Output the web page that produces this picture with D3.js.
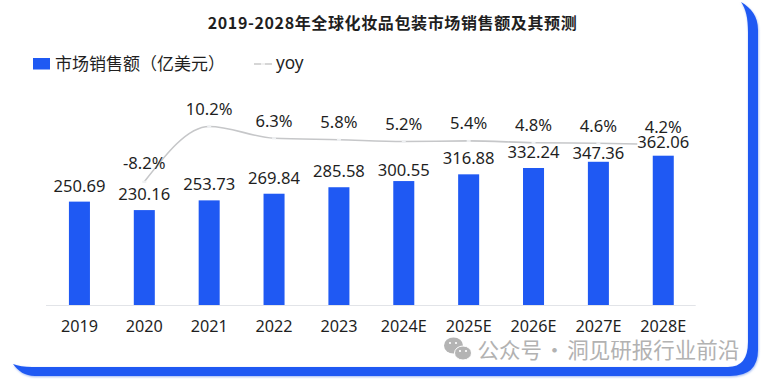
<!DOCTYPE html>
<html><head><meta charset="utf-8">
<script src="https://cdn.jsdelivr.net/npm/d3@7/dist/d3.min.js"></script>
<style>
html,body{margin:0;padding:0;background:#fff}
svg{display:block}
text{font-family:"Noto Sans","Noto Sans CJK SC",sans-serif;fill:#1f1f1f}
</style></head><body>
<svg id="c" width="765" height="381"></svg>
<script>
const categories=["2019","2020","2021","2022","2023","2024E","2025E","2026E","2027E","2028E"];
const marketSales=[250.69,230.16,253.73,269.84,285.58,300.55,316.88,332.24,347.36,362.06];
const yoyValues=[null,-8.2,10.2,6.3,5.8,5.2,5.4,4.8,4.6,4.2];
const yoyLabels=["","-8.2%","10.2%","6.3%","5.8%","5.2%","5.4%","4.8%","4.6%","4.2%"];
const titleText="2019-2028年全球化妆品包装市场销售额及其预测";
const barLegend="市场销售额（亿美元）";
const lineLegend="yoy";
const watermark="公众号 · 洞见研报行业前沿";

const BLUE="#1f59f3";
const svg=d3.select("#c");
const baseY=305;
const x=d3.scaleBand().domain(categories).range([47,695.7]).paddingInner(0.676).paddingOuter(0.338);
const yBar=d3.scaleLinear().domain([0,362.06]).range([baseY,155.7]);
const yLine=d3.scaleLinear().domain([4.2,10.2]).range([144.5,126.5]);
const cx=c=>x(c)+x.bandwidth()/2;
// hand placed label gaps of the original, in px above each bar
const valueGap=[10,10,10,10,10,5.3,10,10,2.7,7.4];

// decorative frame
const defs=svg.append("defs");
const f=defs.append("filter").attr("id","sh").attr("x","-5%").attr("y","-5%").attr("width","110%").attr("height","110%");
f.append("feGaussianBlur").attr("stdDeviation",1.2);
const framePath="M741,2 C751,8 758,16 758,30 L758,350 Q758,376 730,376 L35,376 C25,376 18,371 13,364 C18,366 24,367 32,367 L728,367 Q748,367 748,342 L748,32 C748,18 746,9 741,2 Z";
svg.append("path").attr("d",framePath).attr("fill","#9db6f2").attr("filter","url(#sh)").attr("transform","translate(0.5,1)");
svg.append("path").attr("d",framePath).attr("fill",BLUE);

// title
svg.append("text").attr("x",392.5).attr("y",29).attr("text-anchor","middle")
  .attr("font-size",16).attr("font-weight",700).attr("letter-spacing",0.62)
  .style("font-family",'"Noto Sans CJK SC","Noto Sans",sans-serif').text(titleText);

// legend
svg.append("rect").attr("x",33).attr("y",58).attr("width",17).attr("height",11.5).attr("fill",BLUE);
svg.append("text").attr("x",55).attr("y",70).attr("font-size",17)
  .style("font-family",'"Noto Sans CJK SC",sans-serif').text(barLegend);
svg.append("line").attr("x1",254).attr("x2",272).attr("y1",64).attr("y2",64)
  .attr("stroke","#c9c9c9").attr("stroke-width",1.5);
svg.append("rect").attr("x",261).attr("y",63).attr("width",4).attr("height",2).attr("fill","#f2f2f2");
svg.append("text").attr("x",276).attr("y",69).attr("font-size",17.2).text(lineLegend);

// axis
const axis=d3.axisBottom(x).tickSize(0).tickPadding(0);
const ax=svg.append("g").attr("transform",`translate(0,${baseY})`).call(axis);
ax.select(".domain").attr("stroke","#e2e4e8").attr("stroke-width",1).attr("d","M46,0.5H695.7");
ax.selectAll("text").attr("y",27).attr("dy",0).attr("font-size",16.2);

// bars
svg.append("g").selectAll("rect").data(marketSales).join("rect")
  .attr("x",(d,i)=>x(categories[i])).attr("width",x.bandwidth())
  .attr("y",d=>yBar(d)).attr("height",d=>baseY-yBar(d)).attr("fill",BLUE);

// yoy line
const pts=yoyValues.map((v,i)=>({v,c:categories[i],l:yoyLabels[i]})).filter(d=>d.v!==null);
const line=d3.line().x(d=>cx(d.c)).y(d=>yLine(d.v)).curve(d3.curveMonotoneX);
svg.append("path").attr("d",line(pts)).attr("fill","none").attr("stroke","#c6c7c9").attr("stroke-width",1.6);
svg.append("g").selectAll("rect").data(pts).join("rect")
  .attr("x",d=>cx(d.c)-2).attr("y",d=>yLine(d.v)-1).attr("width",4).attr("height",2.2).attr("fill","#eef0f2");

svg.append("g").selectAll("text").data(pts).join("text")
  .attr("x",d=>cx(d.c)).attr("y",d=>yLine(d.v)-(d.v<0?12.5:11.5)).attr("text-anchor","middle")
  .attr("font-size",16.6).text(d=>d.l);

// value labels with white backing
const vg=svg.append("g").selectAll("g").data(marketSales).join("g");
const vt=vg.append("text").attr("x",(d,i)=>cx(categories[i])).attr("y",(d,i)=>yBar(d)-valueGap[i])
  .attr("text-anchor","middle").attr("font-size",16.6).text(d=>d.toFixed(2));
vt.each(function(){
  const b=this.getBBox();
  d3.select(this.parentNode).insert("rect","text").attr("x",b.x).attr("y",b.y+5).attr("width",b.width).attr("height",b.height-8).attr("fill","#fff");
});

// watermark
const wm=svg.append("g");
const GREY="#b4b4b4";
wm.append("ellipse").attr("cx",453.5).attr("cy",345.5).attr("rx",9.5).attr("ry",8).attr("fill",GREY);
wm.append("ellipse").attr("cx",463).attr("cy",353).attr("rx",8.5).attr("ry",7).attr("fill",GREY).attr("stroke","#fff").attr("stroke-width",1);
[[450,343],[456,343],[460,351],[466,351]].forEach(p=>wm.append("circle").attr("cx",p[0]).attr("cy",p[1]).attr("r",1.1).attr("fill","#fff"));
wm.append("text").attr("x",477.5).attr("y",358).attr("font-size",21.5).attr("word-spacing",-3)
  .style("font-family",'"Noto Sans CJK SC",sans-serif').style("fill","#b2b2b2").text(watermark);
</script>
</body></html>
